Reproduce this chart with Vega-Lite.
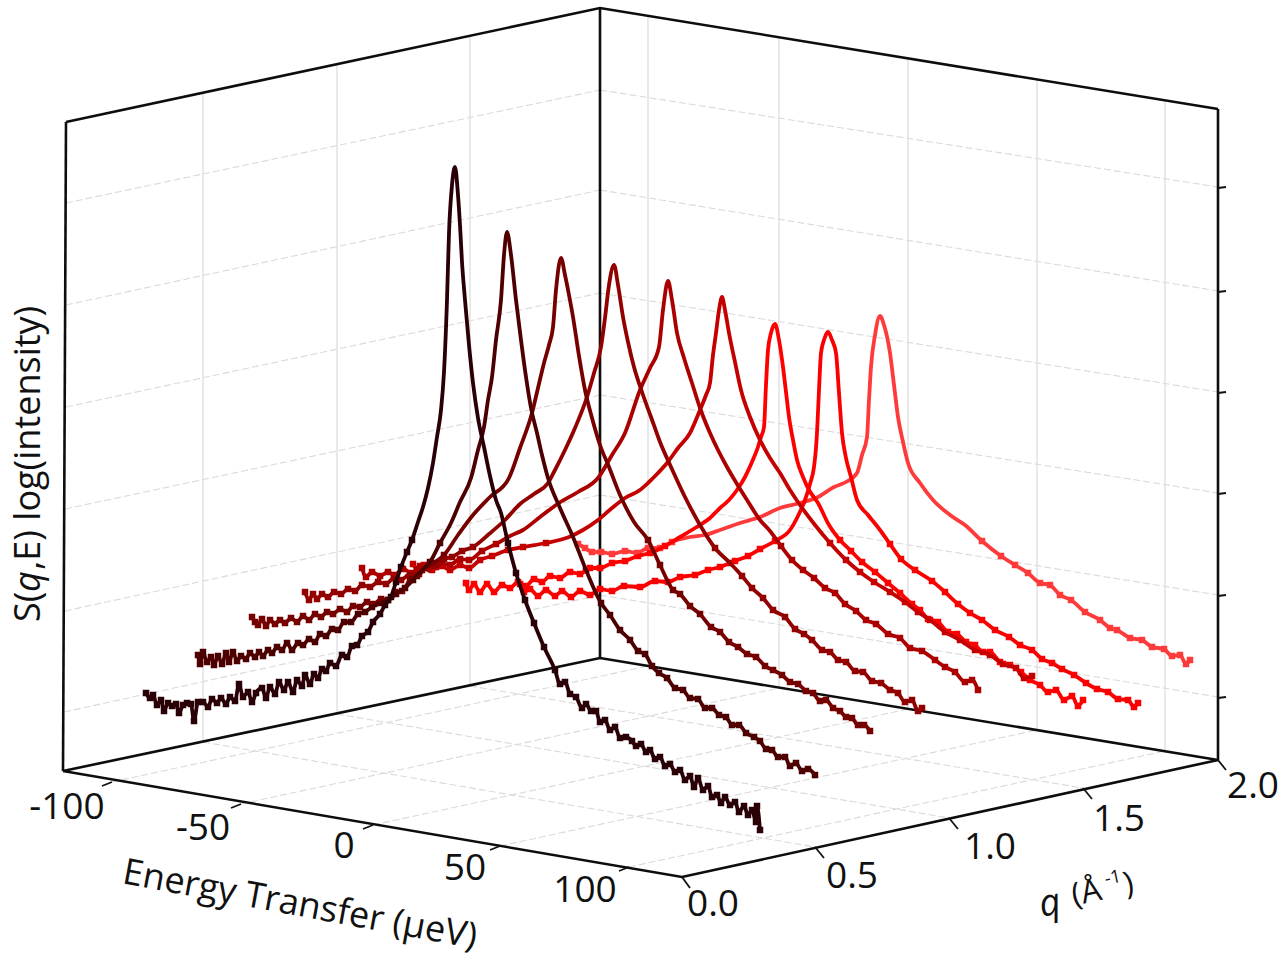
{"$schema":"https://vega.github.io/schema/vega-lite/v6.json","width":1287,"height":960,"padding":0,"autosize":{"type":"none"},"background":"white","config":{"view":{"stroke":null}},
"datasets":{
"hgrid":[{"g":"L1","x":66,"y":203},{"g":"L1","x":600,"y":90},{"g":"L2","x":66,"y":305},{"g":"L2","x":600,"y":190},{"g":"L3","x":66,"y":407},{"g":"L3","x":600,"y":293},{"g":"L4","x":65,"y":509},{"g":"L4","x":600,"y":395},{"g":"L5","x":65,"y":611},{"g":"L5","x":600,"y":495},{"g":"L6","x":64,"y":712},{"g":"L6","x":600,"y":595},{"g":"R1","x":600,"y":90},{"g":"R1","x":1218,"y":187},{"g":"R2","x":600,"y":190},{"g":"R2","x":1218,"y":291},{"g":"R3","x":600,"y":293},{"g":"R3","x":1218,"y":392},{"g":"R4","x":600,"y":395},{"g":"R4","x":1218,"y":493},{"g":"R5","x":600,"y":495},{"g":"R5","x":1218,"y":595},{"g":"R6","x":600,"y":595},{"g":"R6","x":1218,"y":697},{"g":"E1","x":112,"y":782},{"g":"E1","x":648,"y":666},{"g":"E2","x":241,"y":804},{"g":"E2","x":779,"y":688},{"g":"E3","x":373,"y":825},{"g":"E3","x":908,"y":709},{"g":"E4","x":500,"y":846},{"g":"E4","x":1037,"y":730},{"g":"E5","x":629,"y":867},{"g":"E5","x":1165,"y":751},{"g":"Q1","x":815,"y":847},{"g":"Q1","x":203,"y":742},{"g":"Q2","x":949,"y":818},{"g":"Q2","x":337,"y":714},{"g":"Q3","x":1083,"y":788},{"g":"Q3","x":470,"y":686}],
"vgrid":[{"g":"a","x":203,"y":92},{"g":"a","x":203,"y":742},{"g":"b","x":337,"y":64},{"g":"b","x":337,"y":714},{"g":"c","x":470,"y":36},{"g":"c","x":470,"y":686},{"g":"d","x":648,"y":16},{"g":"d","x":648,"y":666},{"g":"e","x":779,"y":37},{"g":"e","x":779,"y":688},{"g":"f","x":908,"y":58},{"g":"f","x":908,"y":709},{"g":"h","x":1037,"y":79},{"g":"h","x":1037,"y":730},{"g":"i","x":1165,"y":100},{"g":"i","x":1165,"y":751}],
"frame":[{"g":"top","x":66,"y":122},{"g":"top","x":600,"y":8},{"g":"top","x":1218,"y":109},{"g":"rw","x":1218,"y":109},{"g":"rw","x":1218,"y":760},{"g":"left","x":66,"y":122},{"g":"left","x":63,"y":771},{"g":"back","x":600,"y":8},{"g":"back","x":600,"y":658},{"g":"front","x":63,"y":771},{"g":"front","x":682,"y":877},{"g":"front","x":1218,"y":760},{"g":"rear","x":63,"y":771},{"g":"rear","x":600,"y":658},{"g":"rear","x":1218,"y":760}],
"ticks":[{"g":"e1","x":112,"y":782},{"g":"e1","x":102,"y":786},{"g":"e2","x":241,"y":804},{"g":"e2","x":231,"y":808},{"g":"e3","x":373,"y":825},{"g":"e3","x":363,"y":829},{"g":"e4","x":500,"y":846},{"g":"e4","x":490,"y":850},{"g":"e5","x":629,"y":867},{"g":"e5","x":619,"y":871},{"g":"q0","x":682,"y":877},{"g":"q0","x":690,"y":888},{"g":"q1","x":815,"y":847},{"g":"q1","x":824,"y":858},{"g":"q2","x":949,"y":818},{"g":"q2","x":958,"y":829},{"g":"q3","x":1083,"y":788},{"g":"q3","x":1092,"y":799},{"g":"q4","x":1218,"y":760},{"g":"q4","x":1226,"y":770},{"g":"z1","x":1218,"y":188},{"g":"z1","x":1226,"y":187},{"g":"z2","x":1218,"y":292},{"g":"z2","x":1226,"y":291},{"g":"z3","x":1218,"y":393},{"g":"z3","x":1226,"y":392},{"g":"z4","x":1218,"y":494},{"g":"z4","x":1226,"y":493},{"g":"z5","x":1218,"y":596},{"g":"z5","x":1226,"y":595},{"g":"z6","x":1218,"y":698},{"g":"z6","x":1226,"y":697}],
"labels":[{"t":"-100","x":67,"y":808},{"t":"-50","x":203,"y":829},{"t":"0","x":344,"y":847},{"t":"50","x":465,"y":869},{"t":"100","x":585,"y":891},{"t":"0.0","x":713,"y":905},{"t":"0.5","x":852,"y":877},{"t":"1.0","x":990,"y":848},{"t":"1.5","x":1119,"y":820},{"t":"2.0","x":1253,"y":787}],
"curves":[
{"s":"q9","x":578,"y":544},{"s":"q9","x":585,"y":548},{"s":"q9","x":592,"y":552},{"s":"q9","x":601,"y":552},{"s":"q9","x":612,"y":554},{"s":"q9","x":625,"y":551},{"s":"q9","x":637,"y":553},{"s":"q9","x":648,"y":548},{"s":"q9","x":660,"y":548},{"s":"q9","x":672,"y":542},{"s":"q9","x":690,"y":537},{"s":"q9","x":705,"y":535},{"s":"q9","x":720,"y":530},{"s":"q9","x":740,"y":523},{"s":"q9","x":760,"y":517},{"s":"q9","x":780,"y":508},{"s":"q9","x":800,"y":503},{"s":"q9","x":818,"y":497},{"s":"q9","x":834,"y":487},{"s":"q9","x":846,"y":482},{"s":"q9","x":857,"y":473},{"s":"q9","x":862,"y":455},{"s":"q9","x":867,"y":437},{"s":"q9","x":869,"y":400},{"s":"q9","x":871,"y":367},{"s":"q9","x":875,"y":335},{"s":"q9","x":880,"y":316},{"s":"q9","x":884,"y":325},{"s":"q9","x":890,"y":353},{"s":"q9","x":894,"y":385},{"s":"q9","x":898,"y":417},{"s":"q9","x":903,"y":442},{"s":"q9","x":908,"y":463},{"s":"q9","x":920,"y":483},{"s":"q9","x":933,"y":500},{"s":"q9","x":950,"y":515},{"s":"q9","x":965,"y":525},{"s":"q9","x":982,"y":541},{"s":"q9","x":1001,"y":556},{"s":"q9","x":1015,"y":565},{"s":"q9","x":1028,"y":573},{"s":"q9","x":1040,"y":583},{"s":"q9","x":1050,"y":585},{"s":"q9","x":1060,"y":595},{"s":"q9","x":1071,"y":600},{"s":"q9","x":1085,"y":612},{"s":"q9","x":1100,"y":620},{"s":"q9","x":1110,"y":628},{"s":"q9","x":1117,"y":630},{"s":"q9","x":1130,"y":638},{"s":"q9","x":1142,"y":640},{"s":"q9","x":1152,"y":647},{"s":"q9","x":1164,"y":649},{"s":"q9","x":1172,"y":656},{"s":"q9","x":1180,"y":655},{"s":"q9","x":1186,"y":664},{"s":"q9","x":1190,"y":660},
{"s":"q8","x":520,"y":584},{"s":"q8","x":524,"y":592},{"s":"q8","x":530,"y":589},{"s":"q8","x":538,"y":596},{"s":"q8","x":546,"y":590},{"s":"q8","x":555,"y":596},{"s":"q8","x":562,"y":591},{"s":"q8","x":571,"y":597},{"s":"q8","x":580,"y":591},{"s":"q8","x":590,"y":595},{"s":"q8","x":600,"y":589},{"s":"q8","x":612,"y":591},{"s":"q8","x":624,"y":586},{"s":"q8","x":640,"y":587},{"s":"q8","x":655,"y":581},{"s":"q8","x":668,"y":582},{"s":"q8","x":680,"y":577},{"s":"q8","x":695,"y":575},{"s":"q8","x":708,"y":570},{"s":"q8","x":720,"y":567},{"s":"q8","x":735,"y":561},{"s":"q8","x":748,"y":556},{"s":"q8","x":760,"y":549},{"s":"q8","x":775,"y":541},{"s":"q8","x":790,"y":530},{"s":"q8","x":798,"y":516},{"s":"q8","x":805,"y":500},{"s":"q8","x":810,"y":484},{"s":"q8","x":814,"y":467},{"s":"q8","x":816,"y":448},{"s":"q8","x":817,"y":433},{"s":"q8","x":819,"y":390},{"s":"q8","x":821,"y":353},{"s":"q8","x":824,"y":340},{"s":"q8","x":828,"y":332},{"s":"q8","x":832,"y":340},{"s":"q8","x":836,"y":353},{"s":"q8","x":839,"y":393},{"s":"q8","x":842,"y":433},{"s":"q8","x":846,"y":458},{"s":"q8","x":851,"y":477},{"s":"q8","x":857,"y":500},{"s":"q8","x":868,"y":515},{"s":"q8","x":880,"y":530},{"s":"q8","x":890,"y":544},{"s":"q8","x":901,"y":559},{"s":"q8","x":915,"y":570},{"s":"q8","x":932,"y":581},{"s":"q8","x":945,"y":592},{"s":"q8","x":958,"y":604},{"s":"q8","x":970,"y":613},{"s":"q8","x":982,"y":620},{"s":"q8","x":995,"y":630},{"s":"q8","x":1009,"y":637},{"s":"q8","x":1020,"y":645},{"s":"q8","x":1032,"y":650},{"s":"q8","x":1042,"y":659},{"s":"q8","x":1052,"y":663},{"s":"q8","x":1062,"y":669},{"s":"q8","x":1074,"y":675},{"s":"q8","x":1086,"y":683},{"s":"q8","x":1097,"y":689},{"s":"q8","x":1108,"y":692},{"s":"q8","x":1118,"y":699},{"s":"q8","x":1128,"y":700},{"s":"q8","x":1134,"y":707},{"s":"q8","x":1138,"y":703},
{"s":"q7","x":466,"y":583},{"s":"q7","x":469,"y":590},{"s":"q7","x":474,"y":584},{"s":"q7","x":480,"y":592},{"s":"q7","x":487,"y":584},{"s":"q7","x":494,"y":592},{"s":"q7","x":502,"y":585},{"s":"q7","x":510,"y":588},{"s":"q7","x":518,"y":582},{"s":"q7","x":526,"y":586},{"s":"q7","x":534,"y":579},{"s":"q7","x":542,"y":582},{"s":"q7","x":550,"y":576},{"s":"q7","x":560,"y":578},{"s":"q7","x":570,"y":572},{"s":"q7","x":580,"y":574},{"s":"q7","x":590,"y":568},{"s":"q7","x":600,"y":568},{"s":"q7","x":612,"y":563},{"s":"q7","x":625,"y":561},{"s":"q7","x":638,"y":556},{"s":"q7","x":650,"y":553},{"s":"q7","x":665,"y":546},{"s":"q7","x":680,"y":537},{"s":"q7","x":695,"y":528},{"s":"q7","x":710,"y":518},{"s":"q7","x":720,"y":508},{"s":"q7","x":729,"y":500},{"s":"q7","x":737,"y":490},{"s":"q7","x":745,"y":477},{"s":"q7","x":752,"y":462},{"s":"q7","x":758,"y":447},{"s":"q7","x":761,"y":437},{"s":"q7","x":764,"y":427},{"s":"q7","x":766,"y":385},{"s":"q7","x":768,"y":350},{"s":"q7","x":771,"y":333},{"s":"q7","x":775,"y":324},{"s":"q7","x":779,"y":340},{"s":"q7","x":783,"y":367},{"s":"q7","x":786,"y":392},{"s":"q7","x":789,"y":417},{"s":"q7","x":793,"y":440},{"s":"q7","x":797,"y":460},{"s":"q7","x":803,"y":477},{"s":"q7","x":809,"y":490},{"s":"q7","x":818,"y":503},{"s":"q7","x":829,"y":525},{"s":"q7","x":840,"y":540},{"s":"q7","x":851,"y":551},{"s":"q7","x":862,"y":562},{"s":"q7","x":875,"y":572},{"s":"q7","x":888,"y":583},{"s":"q7","x":900,"y":593},{"s":"q7","x":912,"y":604},{"s":"q7","x":920,"y":610},{"s":"q7","x":928,"y":619},{"s":"q7","x":938,"y":622},{"s":"q7","x":948,"y":632},{"s":"q7","x":957,"y":634},{"s":"q7","x":966,"y":642},{"s":"q7","x":975,"y":645},{"s":"q7","x":983,"y":652},{"s":"q7","x":990,"y":652},{"s":"q7","x":1000,"y":662},{"s":"q7","x":1010,"y":665},{"s":"q7","x":1021,"y":672},{"s":"q7","x":1030,"y":680},{"s":"q7","x":1040,"y":685},{"s":"q7","x":1048,"y":692},{"s":"q7","x":1056,"y":690},{"s":"q7","x":1064,"y":700},{"s":"q7","x":1072,"y":696},{"s":"q7","x":1078,"y":706},{"s":"q7","x":1083,"y":700},
{"s":"q6","x":413,"y":564},{"s":"q6","x":417,"y":569},{"s":"q6","x":424,"y":565},{"s":"q6","x":432,"y":570},{"s":"q6","x":441,"y":566},{"s":"q6","x":450,"y":570},{"s":"q6","x":460,"y":565},{"s":"q6","x":469,"y":568},{"s":"q6","x":480,"y":560},{"s":"q6","x":492,"y":556},{"s":"q6","x":508,"y":550},{"s":"q6","x":523,"y":547},{"s":"q6","x":546,"y":543},{"s":"q6","x":569,"y":537},{"s":"q6","x":583,"y":530},{"s":"q6","x":598,"y":520},{"s":"q6","x":612,"y":508},{"s":"q6","x":625,"y":498},{"s":"q6","x":640,"y":490},{"s":"q6","x":648,"y":483},{"s":"q6","x":658,"y":473},{"s":"q6","x":667,"y":463},{"s":"q6","x":678,"y":448},{"s":"q6","x":690,"y":433},{"s":"q6","x":700,"y":410},{"s":"q6","x":706,"y":395},{"s":"q6","x":710,"y":383},{"s":"q6","x":713,"y":355},{"s":"q6","x":716,"y":333},{"s":"q6","x":719,"y":310},{"s":"q6","x":722,"y":297},{"s":"q6","x":725,"y":310},{"s":"q6","x":729,"y":333},{"s":"q6","x":735,"y":362},{"s":"q6","x":741,"y":390},{"s":"q6","x":750,"y":417},{"s":"q6","x":760,"y":440},{"s":"q6","x":770,"y":458},{"s":"q6","x":780,"y":473},{"s":"q6","x":790,"y":490},{"s":"q6","x":800,"y":505},{"s":"q6","x":815,"y":525},{"s":"q6","x":830,"y":543},{"s":"q6","x":846,"y":560},{"s":"q6","x":860,"y":572},{"s":"q6","x":874,"y":582},{"s":"q6","x":890,"y":592},{"s":"q6","x":905,"y":602},{"s":"q6","x":918,"y":612},{"s":"q6","x":930,"y":620},{"s":"q6","x":945,"y":632},{"s":"q6","x":960,"y":640},{"s":"q6","x":975,"y":650},{"s":"q6","x":990,"y":655},{"s":"q6","x":1003,"y":664},{"s":"q6","x":1016,"y":668},{"s":"q6","x":1024,"y":678},{"s":"q6","x":1032,"y":676},
{"s":"q5","x":362,"y":568},{"s":"q5","x":366,"y":577},{"s":"q5","x":372,"y":572},{"s":"q5","x":380,"y":576},{"s":"q5","x":388,"y":572},{"s":"q5","x":394,"y":575},{"s":"q5","x":403,"y":569},{"s":"q5","x":412,"y":573},{"s":"q5","x":420,"y":566},{"s":"q5","x":430,"y":569},{"s":"q5","x":440,"y":563},{"s":"q5","x":450,"y":565},{"s":"q5","x":460,"y":559},{"s":"q5","x":469,"y":560},{"s":"q5","x":482,"y":551},{"s":"q5","x":496,"y":544},{"s":"q5","x":510,"y":536},{"s":"q5","x":523,"y":530},{"s":"q5","x":540,"y":517},{"s":"q5","x":559,"y":503},{"s":"q5","x":578,"y":492},{"s":"q5","x":598,"y":478},{"s":"q5","x":612,"y":455},{"s":"q5","x":625,"y":433},{"s":"q5","x":640,"y":390},{"s":"q5","x":650,"y":368},{"s":"q5","x":659,"y":347},{"s":"q5","x":663,"y":310},{"s":"q5","x":668,"y":281},{"s":"q5","x":672,"y":300},{"s":"q5","x":677,"y":333},{"s":"q5","x":684,"y":358},{"s":"q5","x":692,"y":383},{"s":"q5","x":700,"y":408},{"s":"q5","x":710,"y":433},{"s":"q5","x":718,"y":450},{"s":"q5","x":727,"y":467},{"s":"q5","x":737,"y":484},{"s":"q5","x":747,"y":500},{"s":"q5","x":760,"y":520},{"s":"q5","x":770,"y":531},{"s":"q5","x":781,"y":546},{"s":"q5","x":792,"y":560},{"s":"q5","x":803,"y":570},{"s":"q5","x":814,"y":578},{"s":"q5","x":825,"y":588},{"s":"q5","x":835,"y":593},{"s":"q5","x":845,"y":604},{"s":"q5","x":856,"y":611},{"s":"q5","x":866,"y":620},{"s":"q5","x":876,"y":624},{"s":"q5","x":888,"y":634},{"s":"q5","x":900,"y":638},{"s":"q5","x":910,"y":648},{"s":"q5","x":922,"y":651},{"s":"q5","x":935,"y":660},{"s":"q5","x":945,"y":667},{"s":"q5","x":955,"y":672},{"s":"q5","x":965,"y":682},{"s":"q5","x":972,"y":680},{"s":"q5","x":978,"y":690},
{"s":"q4","x":305,"y":592},{"s":"q4","x":309,"y":600},{"s":"q4","x":313,"y":594},{"s":"q4","x":317,"y":599},{"s":"q4","x":322,"y":594},{"s":"q4","x":328,"y":597},{"s":"q4","x":334,"y":592},{"s":"q4","x":341,"y":594},{"s":"q4","x":348,"y":589},{"s":"q4","x":355,"y":591},{"s":"q4","x":362,"y":585},{"s":"q4","x":370,"y":587},{"s":"q4","x":378,"y":582},{"s":"q4","x":386,"y":584},{"s":"q4","x":394,"y":578},{"s":"q4","x":401,"y":580},{"s":"q4","x":410,"y":574},{"s":"q4","x":419,"y":574},{"s":"q4","x":428,"y":566},{"s":"q4","x":436,"y":567},{"s":"q4","x":444,"y":559},{"s":"q4","x":452,"y":557},{"s":"q4","x":462,"y":551},{"s":"q4","x":473,"y":547},{"s":"q4","x":489,"y":534},{"s":"q4","x":505,"y":520},{"s":"q4","x":520,"y":504},{"s":"q4","x":534,"y":494},{"s":"q4","x":548,"y":483},{"s":"q4","x":555,"y":470},{"s":"q4","x":565,"y":450},{"s":"q4","x":575,"y":428},{"s":"q4","x":587,"y":397},{"s":"q4","x":594,"y":373},{"s":"q4","x":601,"y":347},{"s":"q4","x":605,"y":318},{"s":"q4","x":609,"y":285},{"s":"q4","x":614,"y":265},{"s":"q4","x":618,"y":285},{"s":"q4","x":623,"y":317},{"s":"q4","x":628,"y":342},{"s":"q4","x":634,"y":367},{"s":"q4","x":642,"y":392},{"s":"q4","x":651,"y":417},{"s":"q4","x":660,"y":442},{"s":"q4","x":671,"y":467},{"s":"q4","x":685,"y":497},{"s":"q4","x":700,"y":525},{"s":"q4","x":715,"y":548},{"s":"q4","x":730,"y":563},{"s":"q4","x":742,"y":576},{"s":"q4","x":752,"y":588},{"s":"q4","x":763,"y":598},{"s":"q4","x":773,"y":610},{"s":"q4","x":785,"y":617},{"s":"q4","x":795,"y":629},{"s":"q4","x":804,"y":634},{"s":"q4","x":812,"y":640},{"s":"q4","x":822,"y":650},{"s":"q4","x":830,"y":652},{"s":"q4","x":838,"y":660},{"s":"q4","x":846,"y":662},{"s":"q4","x":855,"y":671},{"s":"q4","x":863,"y":672},{"s":"q4","x":872,"y":681},{"s":"q4","x":881,"y":683},{"s":"q4","x":890,"y":690},{"s":"q4","x":898,"y":693},{"s":"q4","x":905,"y":702},{"s":"q4","x":912,"y":700},{"s":"q4","x":918,"y":711},{"s":"q4","x":922,"y":708},
{"s":"q3","x":252,"y":617},{"s":"q3","x":255,"y":622},{"s":"q3","x":258,"y":625},{"s":"q3","x":262,"y":619},{"s":"q3","x":266,"y":626},{"s":"q3","x":270,"y":620},{"s":"q3","x":275,"y":624},{"s":"q3","x":280,"y":620},{"s":"q3","x":285,"y":623},{"s":"q3","x":291,"y":618},{"s":"q3","x":297,"y":622},{"s":"q3","x":303,"y":616},{"s":"q3","x":309,"y":620},{"s":"q3","x":315,"y":614},{"s":"q3","x":321,"y":617},{"s":"q3","x":327,"y":612},{"s":"q3","x":333,"y":614},{"s":"q3","x":340,"y":609},{"s":"q3","x":347,"y":612},{"s":"q3","x":353,"y":606},{"s":"q3","x":360,"y":607},{"s":"q3","x":367,"y":602},{"s":"q3","x":374,"y":604},{"s":"q3","x":381,"y":599},{"s":"q3","x":388,"y":600},{"s":"q3","x":395,"y":592},{"s":"q3","x":402,"y":591},{"s":"q3","x":410,"y":580},{"s":"q3","x":417,"y":576},{"s":"q3","x":425,"y":568},{"s":"q3","x":434,"y":563},{"s":"q3","x":444,"y":555},{"s":"q3","x":458,"y":535},{"s":"q3","x":473,"y":515},{"s":"q3","x":490,"y":497},{"s":"q3","x":509,"y":478},{"s":"q3","x":520,"y":448},{"s":"q3","x":532,"y":413},{"s":"q3","x":538,"y":388},{"s":"q3","x":544,"y":363},{"s":"q3","x":549,"y":345},{"s":"q3","x":553,"y":327},{"s":"q3","x":556,"y":290},{"s":"q3","x":561,"y":258},{"s":"q3","x":565,"y":275},{"s":"q3","x":569,"y":295},{"s":"q3","x":573,"y":317},{"s":"q3","x":579,"y":356},{"s":"q3","x":585,"y":390},{"s":"q3","x":592,"y":418},{"s":"q3","x":600,"y":445},{"s":"q3","x":609,"y":467},{"s":"q3","x":620,"y":495},{"s":"q3","x":634,"y":522},{"s":"q3","x":648,"y":540},{"s":"q3","x":660,"y":565},{"s":"q3","x":673,"y":590},{"s":"q3","x":680,"y":594},{"s":"q3","x":690,"y":606},{"s":"q3","x":700,"y":614},{"s":"q3","x":711,"y":627},{"s":"q3","x":720,"y":632},{"s":"q3","x":729,"y":642},{"s":"q3","x":738,"y":647},{"s":"q3","x":747,"y":654},{"s":"q3","x":756,"y":657},{"s":"q3","x":765,"y":666},{"s":"q3","x":773,"y":670},{"s":"q3","x":782,"y":675},{"s":"q3","x":790,"y":682},{"s":"q3","x":798,"y":684},{"s":"q3","x":806,"y":691},{"s":"q3","x":813,"y":693},{"s":"q3","x":820,"y":701},{"s":"q3","x":826,"y":700},{"s":"q3","x":833,"y":708},{"s":"q3","x":840,"y":711},{"s":"q3","x":846,"y":717},{"s":"q3","x":852,"y":718},{"s":"q3","x":858,"y":725},{"s":"q3","x":864,"y":725},{"s":"q3","x":870,"y":731},
{"s":"q2","x":198,"y":655},{"s":"q2","x":200,"y":664},{"s":"q2","x":203,"y":652},{"s":"q2","x":207,"y":662},{"s":"q2","x":211,"y":657},{"s":"q2","x":214,"y":665},{"s":"q2","x":218,"y":656},{"s":"q2","x":222,"y":664},{"s":"q2","x":226,"y":653},{"s":"q2","x":229,"y":662},{"s":"q2","x":233,"y":652},{"s":"q2","x":237,"y":661},{"s":"q2","x":241,"y":656},{"s":"q2","x":246,"y":659},{"s":"q2","x":250,"y":653},{"s":"q2","x":255,"y":657},{"s":"q2","x":259,"y":652},{"s":"q2","x":263,"y":656},{"s":"q2","x":268,"y":650},{"s":"q2","x":272,"y":653},{"s":"q2","x":277,"y":647},{"s":"q2","x":282,"y":650},{"s":"q2","x":287,"y":643},{"s":"q2","x":292,"y":650},{"s":"q2","x":298,"y":643},{"s":"q2","x":303,"y":645},{"s":"q2","x":309,"y":639},{"s":"q2","x":315,"y":642},{"s":"q2","x":320,"y":634},{"s":"q2","x":326,"y":636},{"s":"q2","x":332,"y":629},{"s":"q2","x":338,"y":630},{"s":"q2","x":344,"y":622},{"s":"q2","x":351,"y":622},{"s":"q2","x":358,"y":614},{"s":"q2","x":365,"y":612},{"s":"q2","x":372,"y":607},{"s":"q2","x":380,"y":603},{"s":"q2","x":388,"y":600},{"s":"q2","x":396,"y":594},{"s":"q2","x":405,"y":588},{"s":"q2","x":413,"y":580},{"s":"q2","x":422,"y":570},{"s":"q2","x":430,"y":562},{"s":"q2","x":440,"y":543},{"s":"q2","x":451,"y":523},{"s":"q2","x":460,"y":502},{"s":"q2","x":471,"y":478},{"s":"q2","x":478,"y":450},{"s":"q2","x":484,"y":427},{"s":"q2","x":488,"y":400},{"s":"q2","x":492,"y":377},{"s":"q2","x":496,"y":340},{"s":"q2","x":501,"y":300},{"s":"q2","x":504,"y":255},{"s":"q2","x":507,"y":232},{"s":"q2","x":511,"y":255},{"s":"q2","x":516,"y":300},{"s":"q2","x":521,"y":340},{"s":"q2","x":526,"y":377},{"s":"q2","x":531,"y":408},{"s":"q2","x":537,"y":433},{"s":"q2","x":542,"y":455},{"s":"q2","x":548,"y":478},{"s":"q2","x":560,"y":508},{"s":"q2","x":573,"y":537},{"s":"q2","x":586,"y":570},{"s":"q2","x":601,"y":603},{"s":"q2","x":610,"y":615},{"s":"q2","x":620,"y":630},{"s":"q2","x":630,"y":640},{"s":"q2","x":638,"y":651},{"s":"q2","x":645,"y":654},{"s":"q2","x":652,"y":666},{"s":"q2","x":659,"y":673},{"s":"q2","x":667,"y":678},{"s":"q2","x":675,"y":688},{"s":"q2","x":683,"y":690},{"s":"q2","x":690,"y":698},{"s":"q2","x":698,"y":699},{"s":"q2","x":705,"y":708},{"s":"q2","x":712,"y":708},{"s":"q2","x":719,"y":715},{"s":"q2","x":726,"y":717},{"s":"q2","x":732,"y":725},{"s":"q2","x":739,"y":725},{"s":"q2","x":746,"y":733},{"s":"q2","x":754,"y":737},{"s":"q2","x":760,"y":741},{"s":"q2","x":766,"y":749},{"s":"q2","x":772,"y":750},{"s":"q2","x":778,"y":757},{"s":"q2","x":785,"y":757},{"s":"q2","x":790,"y":766},{"s":"q2","x":796,"y":763},{"s":"q2","x":802,"y":771},{"s":"q2","x":808,"y":769},{"s":"q2","x":815,"y":775},
{"s":"q1","x":146,"y":693},{"s":"q1","x":150,"y":698},{"s":"q1","x":153,"y":695},{"s":"q1","x":157,"y":705},{"s":"q1","x":161,"y":700},{"s":"q1","x":164,"y":711},{"s":"q1","x":168,"y":703},{"s":"q1","x":172,"y":706},{"s":"q1","x":176,"y":704},{"s":"q1","x":179,"y":713},{"s":"q1","x":183,"y":705},{"s":"q1","x":187,"y":703},{"s":"q1","x":191,"y":704},{"s":"q1","x":194,"y":721},{"s":"q1","x":198,"y":702},{"s":"q1","x":203,"y":702},{"s":"q1","x":208,"y":707},{"s":"q1","x":212,"y":699},{"s":"q1","x":217,"y":703},{"s":"q1","x":221,"y":698},{"s":"q1","x":226,"y":704},{"s":"q1","x":230,"y":697},{"s":"q1","x":235,"y":701},{"s":"q1","x":239,"y":684},{"s":"q1","x":243,"y":697},{"s":"q1","x":248,"y":692},{"s":"q1","x":252,"y":702},{"s":"q1","x":256,"y":693},{"s":"q1","x":262,"y":688},{"s":"q1","x":266,"y":698},{"s":"q1","x":270,"y":687},{"s":"q1","x":275,"y":694},{"s":"q1","x":279,"y":682},{"s":"q1","x":284,"y":690},{"s":"q1","x":288,"y":682},{"s":"q1","x":293,"y":692},{"s":"q1","x":297,"y":680},{"s":"q1","x":302,"y":686},{"s":"q1","x":305,"y":675},{"s":"q1","x":310,"y":684},{"s":"q1","x":314,"y":674},{"s":"q1","x":318,"y":678},{"s":"q1","x":322,"y":669},{"s":"q1","x":326,"y":671},{"s":"q1","x":330,"y":663},{"s":"q1","x":336,"y":666},{"s":"q1","x":342,"y":655},{"s":"q1","x":347,"y":657},{"s":"q1","x":352,"y":646},{"s":"q1","x":357,"y":645},{"s":"q1","x":362,"y":636},{"s":"q1","x":368,"y":632},{"s":"q1","x":373,"y":622},{"s":"q1","x":380,"y":614},{"s":"q1","x":385,"y":605},{"s":"q1","x":391,"y":597},{"s":"q1","x":396,"y":582},{"s":"q1","x":401,"y":567},{"s":"q1","x":407,"y":552},{"s":"q1","x":412,"y":540},{"s":"q1","x":418,"y":522},{"s":"q1","x":423,"y":507},{"s":"q1","x":428,"y":488},{"s":"q1","x":433,"y":463},{"s":"q1","x":437,"y":437},{"s":"q1","x":441,"y":410},{"s":"q1","x":444,"y":372},{"s":"q1","x":447,"y":300},{"s":"q1","x":449,"y":233},{"s":"q1","x":452,"y":185},{"s":"q1","x":455,"y":167},{"s":"q1","x":458,"y":195},{"s":"q1","x":460,"y":225},{"s":"q1","x":462,"y":262},{"s":"q1","x":465,"y":300},{"s":"q1","x":469,"y":345},{"s":"q1","x":473,"y":383},{"s":"q1","x":478,"y":418},{"s":"q1","x":484,"y":447},{"s":"q1","x":490,"y":476},{"s":"q1","x":496,"y":500},{"s":"q1","x":501,"y":513},{"s":"q1","x":508,"y":543},{"s":"q1","x":516,"y":573},{"s":"q1","x":525,"y":600},{"s":"q1","x":534,"y":623},{"s":"q1","x":544,"y":647},{"s":"q1","x":555,"y":670},{"s":"q1","x":560,"y":684},{"s":"q1","x":565,"y":682},{"s":"q1","x":570,"y":694},{"s":"q1","x":576,"y":697},{"s":"q1","x":582,"y":708},{"s":"q1","x":586,"y":704},{"s":"q1","x":591,"y":711},{"s":"q1","x":596,"y":711},{"s":"q1","x":600,"y":722},{"s":"q1","x":605,"y":720},{"s":"q1","x":610,"y":730},{"s":"q1","x":615,"y":727},{"s":"q1","x":620,"y":738},{"s":"q1","x":626,"y":737},{"s":"q1","x":632,"y":741},{"s":"q1","x":636,"y":746},{"s":"q1","x":641,"y":744},{"s":"q1","x":646,"y":752},{"s":"q1","x":650,"y":750},{"s":"q1","x":655,"y":759},{"s":"q1","x":660,"y":757},{"s":"q1","x":665,"y":766},{"s":"q1","x":670,"y":764},{"s":"q1","x":675,"y":772},{"s":"q1","x":680,"y":770},{"s":"q1","x":685,"y":780},{"s":"q1","x":690,"y":776},{"s":"q1","x":694,"y":787},{"s":"q1","x":698,"y":778},{"s":"q1","x":703,"y":790},{"s":"q1","x":708,"y":786},{"s":"q1","x":712,"y":797},{"s":"q1","x":717,"y":795},{"s":"q1","x":721,"y":803},{"s":"q1","x":725,"y":797},{"s":"q1","x":730,"y":805},{"s":"q1","x":735,"y":802},{"s":"q1","x":739,"y":812},{"s":"q1","x":744,"y":806},{"s":"q1","x":748,"y":815},{"s":"q1","x":752,"y":810},{"s":"q1","x":756,"y":822},{"s":"q1","x":757,"y":806},{"s":"q1","x":760,"y":830}
]},
"encoding":{"x":{"field":"x","type":"quantitative","axis":null,"scale":{"domain":[0,1287],"range":[0,1287],"nice":false,"zero":false}},"y":{"field":"y","type":"quantitative","axis":null,"scale":{"domain":[960,0],"range":[960,0],"nice":false,"zero":false}}},
"layer":[
{"data":{"name":"hgrid"},"mark":{"type":"line","stroke":"#dadada","strokeWidth":1.1,"strokeDash":[7,3]},"encoding":{"detail":{"field":"g"}}},
{"data":{"name":"vgrid"},"mark":{"type":"line","stroke":"#e0e0e0","strokeWidth":1.4},"encoding":{"detail":{"field":"g"}}},
{"data":{"name":"frame"},"mark":{"type":"line","stroke":"#0d0d0d","strokeWidth":2.6,"strokeJoin":"miter"},"encoding":{"detail":{"field":"g"}}},
{"data":{"name":"ticks"},"mark":{"type":"line","stroke":"#111111","strokeWidth":1.8},"encoding":{"detail":{"field":"g"}}},
{"data":{"name":"curves"},"transform":[{"filter":"datum.y >= 540"}],"mark":{"type":"point","shape":"square","filled":true,"size":42,"opacity":1},"encoding":{"color":{"field":"s","type":"nominal","legend":null,"scale":{"domain":["q1","q2","q3","q4","q5","q6","q7","q8","q9"],"range":["#2a0006","#4e0000","#760000","#930000","#ac0000","#c40000","#ff0000","#fa0000","#ff3a3a"]}}}},
{"data":{"name":"curves"},"mark":{"type":"line","strokeJoin":"round","interpolate":"monotone"},"encoding":{"color":{"field":"s","type":"nominal","legend":null,"scale":{"domain":["q1","q2","q3","q4","q5","q6","q7","q8","q9"],"range":["#2a0006","#4e0000","#760000","#930000","#ac0000","#c40000","#ff0000","#fa0000","#ff3a3a"]}},"size":{"field":"s","type":"ordinal","legend":null,"scale":{"domain":["q1","q2","q3","q4","q5","q6","q7","q8","q9"],"range":[3.8,3.8,4,4.2,4.2,4.4,5,5,4.6]}}}},
{"data":{"name":"labels"},"mark":{"type":"text","font":"Open Sans","fontSize":37,"align":"center","baseline":"middle","fill":"#111111"},"encoding":{"text":{"field":"t"}}},
{"data":{"values":[{"t":"Energy Transfer (µeV)","x":300,"y":905}]},"mark":{"type":"text","font":"Open Sans","fontSize":36,"angle":10.5,"align":"center","baseline":"middle","fill":"#111111"},"encoding":{"text":{"field":"t"}}},
{"data":{"values":[{"t":"S(","x":29,"y":622}]},"mark":{"type":"text","font":"Open Sans","fontSize":36,"angle":270,"align":"left","baseline":"middle","fill":"#111111"},"encoding":{"text":{"field":"t"}}},
{"data":{"values":[{"t":"q","x":29,"y":592}]},"mark":{"type":"text","font":"Open Sans","fontStyle":"italic","fontSize":36,"angle":270,"align":"left","baseline":"middle","fill":"#111111"},"encoding":{"text":{"field":"t"}}},
{"data":{"values":[{"t":",E) log(intensity)","x":29,"y":570}]},"mark":{"type":"text","font":"Open Sans","fontSize":36,"angle":270,"align":"left","baseline":"middle","fill":"#111111"},"encoding":{"text":{"field":"t"}}},
{"data":{"values":[{"t":"q","x":1050,"y":904}]},"mark":{"type":"text","font":"Open Sans","fontStyle":"italic","fontSize":37,"angle":348,"align":"center","baseline":"middle","fill":"#111111"},"encoding":{"text":{"field":"t"}}},
{"data":{"values":[{"t":"(Å","x":1072,"y":896}]},"mark":{"type":"text","font":"Open Sans","fontSize":32,"angle":348,"align":"left","baseline":"middle","fill":"#111111"},"encoding":{"text":{"field":"t"}}},
{"data":{"values":[{"t":"-1","x":1105,"y":880}]},"mark":{"type":"text","font":"Open Sans","fontSize":18,"angle":348,"align":"left","baseline":"middle","fill":"#111111"},"encoding":{"text":{"field":"t"}}},
{"data":{"values":[{"t":")","x":1124,"y":885}]},"mark":{"type":"text","font":"Open Sans","fontSize":32,"angle":348,"align":"left","baseline":"middle","fill":"#111111"},"encoding":{"text":{"field":"t"}}}
]}
